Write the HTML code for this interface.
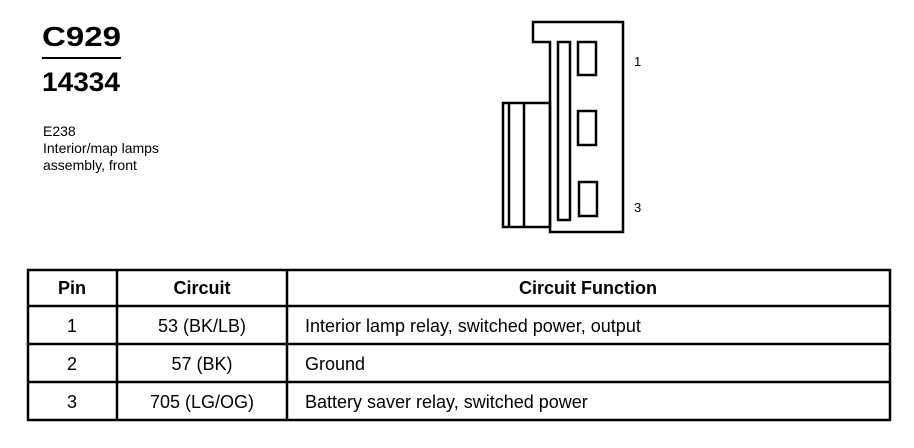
<!DOCTYPE html>
<html><head><meta charset="utf-8"><style>
html,body{margin:0;padding:0;background:#fff;}
svg{display:block;}
text{font-family:"Liberation Sans",Arial,sans-serif;fill:#000;}
</style></head><body>
<svg width="914" height="448" viewBox="0 0 914 448" xmlns="http://www.w3.org/2000/svg">
<text x="42" y="46" font-size="28" font-weight="bold" textLength="79" lengthAdjust="spacingAndGlyphs">C929</text>
<rect x="42" y="57" width="79" height="2"/>
<text x="42" y="91" font-size="27" font-weight="bold" textLength="78" lengthAdjust="spacingAndGlyphs">14334</text>
<text x="43" y="136" font-size="14">E238</text>
<text x="43" y="153" font-size="14">Interior/map lamps</text>
<text x="43" y="170" font-size="14">assembly, front</text>

<g fill="none" stroke="#000" stroke-width="2.5">
<path d="M533 22 H623 V232 H550 V42 H533 Z"/>
<rect x="503" y="103" width="47" height="124"/>
<line x1="509" y1="103" x2="509" y2="227"/>
<line x1="524" y1="103" x2="524" y2="227"/>
<rect x="558" y="42" width="12" height="178"/>
<rect x="578" y="42" width="18" height="33"/>
<rect x="578" y="111" width="18" height="34"/>
<rect x="579" y="182" width="18" height="34"/>
</g>
<text x="634" y="66" font-size="13">1</text>
<text x="634" y="212" font-size="13">3</text>

<g fill="none" stroke="#000" stroke-width="2.5">
<rect x="28" y="270" width="862" height="150"/>
<line x1="28" y1="306" x2="890" y2="306"/>
<line x1="28" y1="344" x2="890" y2="344"/>
<line x1="28" y1="382" x2="890" y2="382"/>
<line x1="117" y1="270" x2="117" y2="420"/>
<line x1="287" y1="270" x2="287" y2="420"/>
</g>
<g font-size="18" text-anchor="middle">
<text x="72" y="294" font-weight="bold">Pin</text>
<text x="202" y="294" font-weight="bold">Circuit</text>
<text x="588" y="294" font-weight="bold">Circuit Function</text>
<text x="72" y="332">1</text>
<text x="202" y="332">53 (BK/LB)</text>
<text x="72" y="370">2</text>
<text x="202" y="370">57 (BK)</text>
<text x="72" y="408">3</text>
<text x="202" y="408">705 (LG/OG)</text>
</g>
<g font-size="18">
<text x="305" y="332">Interior lamp relay, switched power, output</text>
<text x="305" y="370">Ground</text>
<text x="305" y="408">Battery saver relay, switched power</text>
</g>
</svg>
</body></html>
